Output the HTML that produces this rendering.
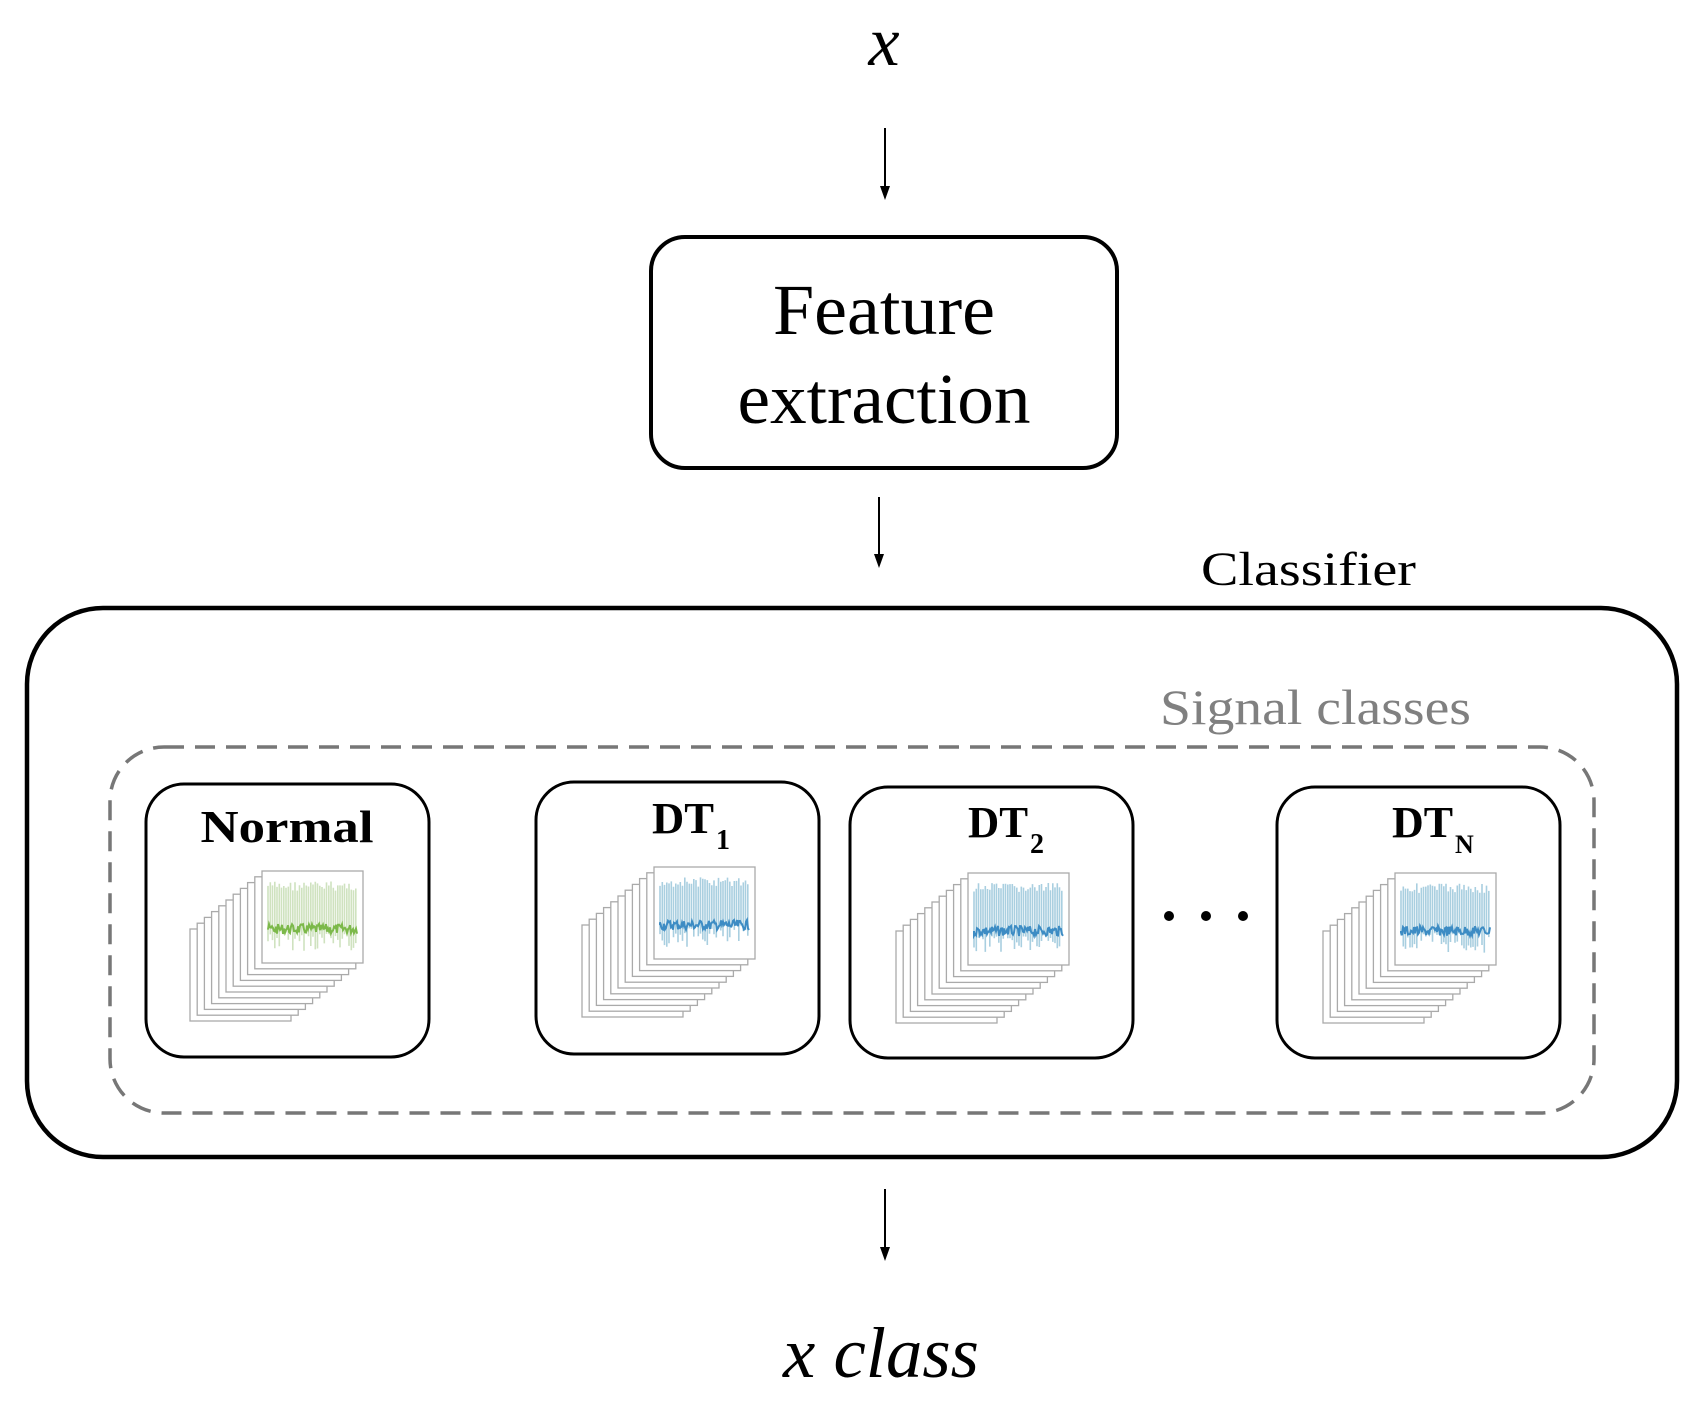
<!DOCTYPE html>
<html><head><meta charset="utf-8">
<style>
html,body{margin:0;padding:0;background:#fff;}
svg{display:block;}
</style></head>
<body>
<svg id="s" width="1700" height="1408" viewBox="0 0 1700 1408" xmlns="http://www.w3.org/2000/svg">
<g font-family="'Liberation Serif', serif">
<text x="884" y="65" font-size="70" font-style="italic" text-anchor="middle">x</text>
<line x1="885" y1="128" x2="885" y2="186" stroke="#000" stroke-width="2"/>
<path d="M880,186 L890,186 L885,200 Z" fill="#000"/>

<rect x="651" y="237" width="466" height="231" rx="34" fill="none" stroke="#000" stroke-width="4"/>
<text x="884" y="334" font-size="72" text-anchor="middle" textLength="222" lengthAdjust="spacingAndGlyphs">Feature</text>
<text x="884" y="423" font-size="72" text-anchor="middle" textLength="293" lengthAdjust="spacingAndGlyphs">extraction</text>

<line x1="879" y1="497" x2="879" y2="554" stroke="#000" stroke-width="2"/>
<path d="M874,554 L884,554 L879,568 Z" fill="#000"/>

<text x="1201" y="585" font-size="48" textLength="215" lengthAdjust="spacingAndGlyphs">Classifier</text>
<rect x="27" y="608" width="1650" height="549" rx="76" fill="none" stroke="#000" stroke-width="4.5"/>
<text x="1160" y="724" font-size="50" fill="#808080" textLength="311" lengthAdjust="spacingAndGlyphs">Signal classes</text>
<rect x="110" y="747" width="1484" height="366" rx="54" fill="none" stroke="#777" stroke-width="3.5" stroke-dasharray="20 11"/>

<rect x="146" y="784" width="283" height="273" rx="38" fill="none" stroke="#000" stroke-width="3"/>
<rect x="536" y="782" width="283" height="272" rx="38" fill="none" stroke="#000" stroke-width="3"/>
<rect x="850" y="787" width="283" height="271" rx="38" fill="none" stroke="#000" stroke-width="3"/>
<rect x="1277" y="787" width="283" height="271" rx="38" fill="none" stroke="#000" stroke-width="3"/>

<text x="287" y="842" font-size="46" font-weight="bold" text-anchor="middle" textLength="173" lengthAdjust="spacingAndGlyphs">Normal</text>
<text x="652" y="833" font-size="44" font-weight="bold" textLength="62" lengthAdjust="spacingAndGlyphs">DT</text>
<text x="716" y="849" font-size="28" font-weight="bold">1</text>
<text x="968" y="837" font-size="44" font-weight="bold" textLength="60" lengthAdjust="spacingAndGlyphs">DT</text>
<text x="1030" y="853" font-size="28" font-weight="bold">2</text>
<text x="1392" y="837" font-size="44" font-weight="bold" textLength="61" lengthAdjust="spacingAndGlyphs">DT</text>
<text x="1455" y="853" font-size="26" font-weight="bold">N</text>

<circle cx="1169" cy="916" r="5" fill="#000"/>
<circle cx="1206" cy="916" r="5" fill="#000"/>
<circle cx="1243" cy="916" r="5" fill="#000"/>

<g id="stacks"></g>

<line x1="885" y1="1189" x2="885" y2="1247" stroke="#000" stroke-width="2"/>
<path d="M880,1247 L890,1247 L885,1261 Z" fill="#000"/>
<text x="881" y="1377" font-size="72" font-style="italic" text-anchor="middle" textLength="196" lengthAdjust="spacingAndGlyphs">x class</text>
</g>
<script>
(function(){
var g=document.getElementById('stacks');var ns='http://www.w3.org/2000/svg';
function el(n,a){var e=document.createElementNS(ns,n);for(var k in a)e.setAttribute(k,a[k]);g.appendChild(e);return e;}
var seed=7;function r(){seed=(seed*9301+49297)%233280;return seed/233280;}
function stack(fx,fy,c1,c2){
 var w=101,h=92;
 for(var i=10;i>=0;i--){
  var x=fx-i*7.2,y=fy+i*5.8;
  el('rect',{x:x,y:y,width:w,height:h,fill:'#fff',stroke:'#aaa','stroke-width':1.3});
 }
 var d='';
 for(var k=0;k<40;k++){var x=fx+6+k*2.25;var top=fy+10+r()*10;var bot=fy+58+r()*22;d+='M'+x.toFixed(1)+','+top.toFixed(1)+'V'+bot.toFixed(1);}
 el('path',{d:d,stroke:c1,'stroke-width':1.6,fill:'none'});
 var p='M'+(fx+6)+','+(fy+58);
 for(var k=0;k<90;k++){var x=fx+6+k*1;var y=fy+58+(r()-0.5)*10;p+='L'+x.toFixed(1)+','+y.toFixed(1);}
 el('path',{d:p,stroke:c2,'stroke-width':2,fill:'none'});
}
stack(262,871,'#cfe2bf','#7cb94a');
stack(654,867,'#a9cfe0','#3d8cc4');
stack(968,873,'#a9cfe0','#3d8cc4');
stack(1395,873,'#a9cfe0','#3d8cc4');
})();
</script>
</svg>
</body></html>
